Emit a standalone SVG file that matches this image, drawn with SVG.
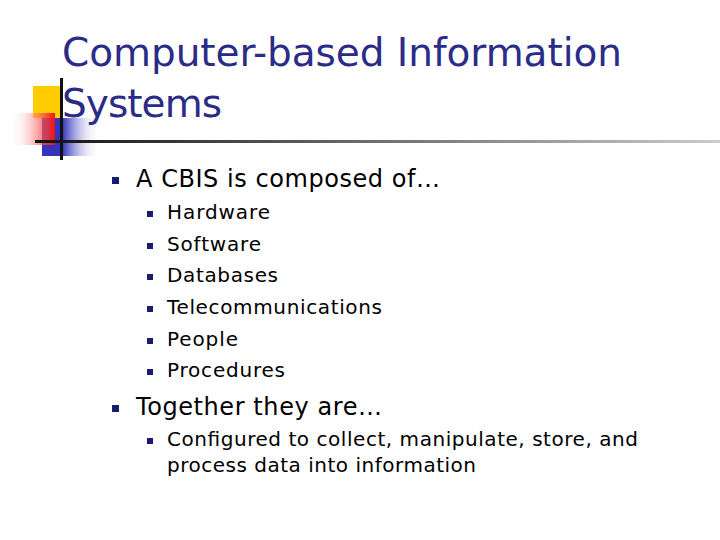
<svg xmlns="http://www.w3.org/2000/svg" width="720" height="540" viewBox="0 0 720 540">
<defs>
<linearGradient id="r" x1="1" y1="0" x2="0" y2="0"><stop offset="0" stop-color="#f01010"/><stop offset="1" stop-color="#fff" stop-opacity="0"/></linearGradient>
<linearGradient id="b" x1="0" y1="0" x2="1" y2="0"><stop offset="0.35" stop-color="#3333bb"/><stop offset="1" stop-color="#fff" stop-opacity="0"/></linearGradient>
<linearGradient id="h" x1="0" y1="0" x2="1" y2="0"><stop offset="0" stop-color="#111"/><stop offset="1" stop-color="#ccc"/></linearGradient>
<style>
.t{font-family:"DejaVu Sans",sans-serif;fill:#2b2b88;font-size:39px}
.a{font-family:"DejaVu Sans",sans-serif;fill:#000;font-size:24px}
.s{font-family:"DejaVu Sans",sans-serif;fill:#000;font-size:20px}
.bl{fill:#1a1a70}
</style>
</defs>
<rect x="0" y="0" width="720" height="540" fill="#fff"/>
<g id="deco">
<rect x="33" y="86" width="29" height="32" fill="#ffcc00"/>
<rect x="42" y="118" width="58" height="38" fill="url(#b)"/>
<rect x="10" y="113" width="45" height="32" fill="url(#r)"/>
<rect x="35" y="140" width="685" height="3" fill="url(#h)"/>
<rect x="60" y="78" width="3" height="82" fill="#111"/>
</g>
<g id="title"><text class="t" x="62" y="66" textLength="560">Computer-based Information</text><text class="t" x="62" y="117" textLength="160">Systems</text></g>
<g id="body">
<rect class="bl" x="112" y="177" width="7" height="7"/><text class="a" x="136" y="187" textLength="304">A CBIS is composed of…</text>
<rect class="bl" x="147" y="211" width="6" height="6"/><text class="s" x="167" y="219" textLength="103">Hardware</text>
<rect class="bl" x="147" y="243" width="6" height="6"/><text class="s" x="167" y="251" textLength="94">Software</text>
<rect class="bl" x="147" y="274" width="6" height="6"/><text class="s" x="167" y="282" textLength="111">Databases</text>
<rect class="bl" x="147" y="306" width="6" height="6"/><text class="s" x="167" y="314" textLength="215">Telecommunications</text>
<rect class="bl" x="147" y="338" width="6" height="6"/><text class="s" x="167" y="346" textLength="71">People</text>
<rect class="bl" x="147" y="369" width="6" height="6"/><text class="s" x="167" y="377" textLength="118">Procedures</text>
<rect class="bl" x="112" y="405" width="7" height="7"/><text class="a" x="136" y="415" textLength="246">Together they are…</text>
<rect class="bl" x="147" y="438" width="6" height="6"/><text class="s" x="167" y="446" textLength="471">Configured to collect, manipulate, store, and</text>
<text class="s" x="167" y="472" textLength="309">process data into information</text>
</g>
</svg>
